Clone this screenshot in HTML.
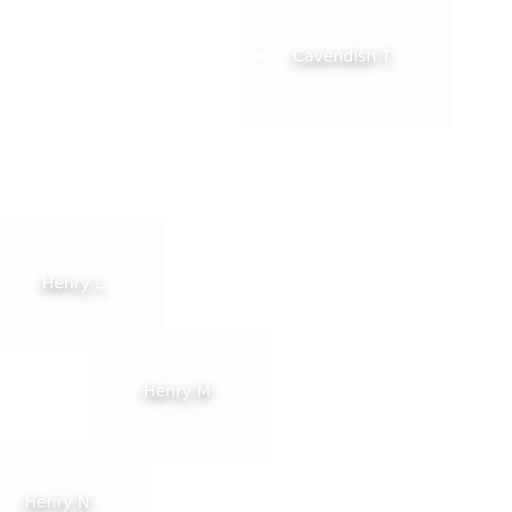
<!DOCTYPE html>
<html><head><meta charset="utf-8"><style>
html,body{margin:0;padding:0;width:512px;height:512px;overflow:hidden;background:#fff;}
.box{position:absolute;background:#fdfdfd;}
.lbl{position:absolute;color:#fff;font-family:"DejaVu Sans","Liberation Sans",sans-serif;font-size:16px;white-space:nowrap;text-shadow:0 4px 10px rgba(0,0,0,0.45),0 6px 16px rgba(0,0,0,0.15);transform:translate(-50%,-50%);}
.dot{position:absolute;width:8px;height:8px;border-radius:50%;background:#fff;box-shadow:0 0 6px rgba(0,0,0,0.05);}
</style></head><body>
<div style="position:absolute;left:0;top:0;width:512px;height:512px;">
<div class="box" style="left:240px;top:0;width:212px;height:127px;"></div>
<div class="dot" style="left:256px;top:52px;"></div>
<div class="lbl" style="left:342px;top:56px;">Cavendish T</div>
<div class="box" style="left:0;top:220px;width:163px;height:132px;"></div>
<div class="lbl" style="left:73px;top:283px;">Henry L</div>
<div class="box" style="left:89px;top:328px;width:183px;height:134px;"></div>
<div class="lbl" style="left:177px;top:391px;">Henry M</div>
<div class="box" style="left:0;top:440px;width:152px;height:72px;"></div>
<div class="lbl" style="left:57px;top:502px;">Henry N</div>
</div>
</body></html>
